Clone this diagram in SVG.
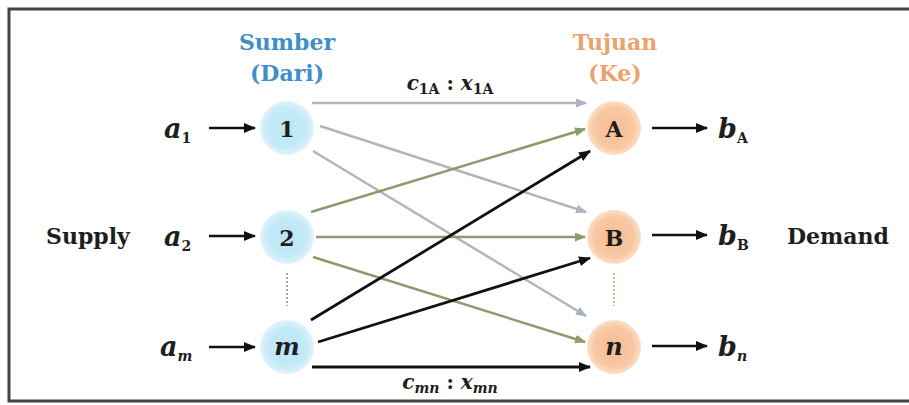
<svg xmlns="http://www.w3.org/2000/svg" width="909" height="405" viewBox="0 0 909 405">
<style>
text{font-family:"DejaVu Serif","Liberation Serif",serif;font-weight:bold;fill:#1e1e1e}
.t{font-size:22px}
.nd{font-size:22px;text-anchor:middle}
.it{font-style:italic}
.v{font-size:27px;font-style:italic}
.sub{font-size:14px;font-style:normal}
.lab{font-size:20px;text-anchor:middle}
.c{fill:none;stroke-width:2.5}
.grey{stroke:#b5b5b5;marker-end:url(#mg)}
.olive{stroke:#8c9a6c;marker-end:url(#mo)}
.blk{stroke:#111;stroke-width:2.8;marker-end:url(#mb)}
.io{stroke:#111;stroke-width:2.5;marker-end:url(#mb)}
</style>
<defs>
<marker id="mg" markerUnits="userSpaceOnUse" markerWidth="11" markerHeight="9" refX="10" refY="4.5" orient="auto"><path d="M0,0 L11,4.5 L0,9 z" fill="#a9b4c2"/></marker>
<marker id="mo" markerUnits="userSpaceOnUse" markerWidth="11" markerHeight="9" refX="10" refY="4.5" orient="auto"><path d="M0,0 L11,4.5 L0,9 z" fill="#8c9a6c"/></marker>
<marker id="mb" markerUnits="userSpaceOnUse" markerWidth="12" markerHeight="10" refX="11" refY="5" orient="auto"><path d="M0,0 L12,5 L0,10 z" fill="#111"/></marker>
<radialGradient id="gb" cx="0.5" cy="0.5" r="0.5"><stop offset="0" stop-color="#b9e5f6"/><stop offset="0.75" stop-color="#c6eaf8"/><stop offset="1" stop-color="#e2f4fb"/></radialGradient>
<radialGradient id="go" cx="0.5" cy="0.5" r="0.5"><stop offset="0" stop-color="#f6bd93"/><stop offset="0.75" stop-color="#f8c8a4"/><stop offset="1" stop-color="#fbe0c9"/></radialGradient>
</defs>
<rect x="0" y="0" width="909" height="405" fill="#fff"/>
<path d="M918,9 H9 V401 H918" fill="none" stroke="#444" stroke-width="3"/>

<g id="titles">
<text x="287" y="50" class="t" text-anchor="middle" style="fill:#3f8ec8">Sumber</text>
<text x="287" y="81" class="t" text-anchor="middle" style="fill:#3f8ec8">(Dari)</text>
<text x="615" y="50" class="t" text-anchor="middle" style="fill:#e9a36c">Tujuan</text>
<text x="615" y="81" class="t" text-anchor="middle" style="fill:#e9a36c">(Ke)</text>
<text x="88" y="244" class="t" text-anchor="middle">Supply</text>
<text x="838" y="244" class="t" text-anchor="middle">Demand</text>
</g>

<g id="connectors">
<line class="c grey" x1="312" y1="103" x2="586" y2="103"/>
<line class="c grey" x1="320" y1="126" x2="586" y2="212"/>
<line class="c grey" x1="313" y1="151" x2="586" y2="316"/>
<line class="c olive" x1="311" y1="212" x2="585" y2="129"/>
<line class="c olive" x1="316" y1="237" x2="585" y2="237"/>
<line class="c olive" x1="313" y1="257" x2="585" y2="342"/>
<line class="c blk" x1="311" y1="320" x2="590" y2="151"/>
<line class="c blk" x1="318" y1="342" x2="590" y2="258"/>
<line class="c blk" x1="312" y1="367" x2="590" y2="367"/>
<line class="io" x1="209" y1="128" x2="255" y2="128"/>
<line class="io" x1="209" y1="236" x2="255" y2="236"/>
<line class="io" x1="209" y1="347" x2="255" y2="347"/>
<line class="io" x1="652" y1="128" x2="707" y2="128"/>
<line class="io" x1="652" y1="235" x2="707" y2="235"/>
<line class="io" x1="652" y1="346" x2="707" y2="346"/>
<line x1="287" y1="273" x2="287" y2="306" stroke="#7c93a0" stroke-width="1.5" stroke-dasharray="2,2"/>
<line x1="614" y1="273" x2="614" y2="306" stroke="#d6a270" stroke-width="1.5" stroke-dasharray="2,2"/>
</g>

<g id="edge-labels">
<text x="450" y="90" class="lab"><tspan class="it">c</tspan><tspan class="sub" dy="4">1A</tspan><tspan dy="-4"> : </tspan><tspan class="it">x</tspan><tspan class="sub" dy="4">1A</tspan></text>
<text x="450" y="389" class="lab"><tspan class="it">c</tspan><tspan class="sub it" dy="4" style="font-style:italic">mn</tspan><tspan dy="-4"> : </tspan><tspan class="it">x</tspan><tspan class="sub" dy="4" style="font-style:italic">mn</tspan></text>
</g>

<g id="node-1"><circle cx="287" cy="128" r="27" fill="url(#gb)"/><text x="287" y="137" class="nd">1</text></g>
<g id="node-2"><circle cx="287" cy="237" r="27" fill="url(#gb)"/><text x="287" y="246" class="nd">2</text></g>
<g id="node-m"><circle cx="287" cy="347" r="27" fill="url(#gb)"/><text x="287" y="355" class="nd it" style="font-size:24px">m</text></g>
<g id="node-A"><circle cx="614" cy="128" r="27" fill="url(#go)"/><text x="614" y="137" class="nd">A</text></g>
<g id="node-B"><circle cx="614" cy="237" r="27" fill="url(#go)"/><text x="614" y="246" class="nd">B</text></g>
<g id="node-n"><circle cx="614" cy="347" r="27" fill="url(#go)"/><text x="614" y="355" class="nd it" style="font-size:24px">n</text></g>

<g id="supply-labels">
<text x="164" y="138" class="v">a<tspan class="sub" dy="5">1</tspan></text>
<text x="164" y="246" class="v">a<tspan class="sub" dy="5">2</tspan></text>
<text x="160" y="356" class="v">a<tspan class="sub" dy="5" style="font-style:italic">m</tspan></text>
</g>
<g id="demand-labels">
<text x="718" y="138" class="v">b<tspan class="sub" dy="5">A</tspan></text>
<text x="718" y="245" class="v">b<tspan class="sub" dy="5">B</tspan></text>
<text x="718" y="356" class="v">b<tspan class="sub" dy="5" style="font-style:italic">n</tspan></text>
</g>
</svg>
